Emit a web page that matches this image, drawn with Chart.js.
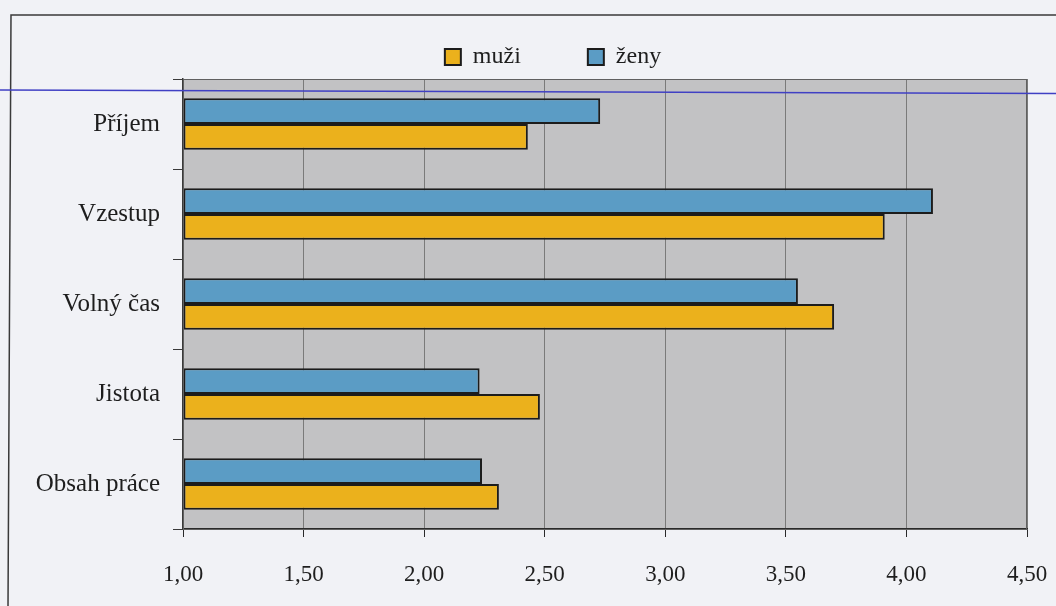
<!DOCTYPE html>
<html lang="cs">
<head>
<meta charset="utf-8">
<title>muži a ženy</title>
<script src="https://cdn.jsdelivr.net/npm/chart.js@4.4.1/dist/chart.umd.min.js"></script>
<style>
  html, body { margin: 0; padding: 0; background: #f1f2f6; }
  #wrap { width: 1056px; height: 606px; position: relative; }
</style>
</head>
<body>
<div id="wrap"><canvas id="c" width="1056" height="606"></canvas></div>
<script>
// Kategorie a průměrné hodnoty
const categories = ['Příjem', 'Vzestup', 'Volný čas', 'Jistota', 'Obsah práce'];
const zenyValues = [2.73, 4.11, 3.55, 2.23, 2.24];
const muziValues = [2.43, 3.91, 3.70, 2.48, 2.31];
const seriesNames = ['ženy', 'muži'];
const axisMin = 1.0;
const axisMax = 4.5;
const axisStep = 0.5;

const INK = '#1e1e1e';
const FONT = "'Liberation Serif', 'Times New Roman', serif";
const LEGEND_INSET = 79;   // legenda je vycentrovaná mimo levý okraj

// Šedé pozadí a rámeček grafu, vnější rám a linka přes stránku
const framePlugin = {
  id: 'frame',
  afterLayout(chart) {
    if (chart.legend) {
      chart.legend.left = LEGEND_INSET;
    }
  },
  beforeDraw(chart) {
    const { ctx, chartArea: a } = chart;
    ctx.save();
    ctx.fillStyle = '#c2c2c4';
    ctx.fillRect(a.left, a.top, a.right - a.left, a.bottom - a.top);
    // vnější rám
    ctx.strokeStyle = '#3a3a3a';
    ctx.lineWidth = 1.5;
    ctx.beginPath();
    ctx.moveTo(1056, 15);
    ctx.lineTo(11, 15);
    ctx.lineTo(8, 606);
    ctx.stroke();
    ctx.restore();
  },
  afterDatasetsDraw(chart) {
    const { ctx, chartArea: a } = chart;
    ctx.save();
    ctx.strokeStyle = '#606060';
    ctx.lineWidth = 1;
    ctx.strokeRect(a.left + 0.5, a.top + 0.5, a.right - a.left - 1, a.bottom - a.top);
    ctx.restore();
  },
  afterDraw(chart) {
    const { ctx } = chart;
    ctx.save();
    ctx.strokeStyle = '#4040c4';
    ctx.lineWidth = 1.5;
    ctx.beginPath();
    ctx.moveTo(0, 90);
    ctx.lineTo(1056, 93.5);
    ctx.stroke();
    ctx.restore();
  }
};

Chart.defaults.font.family = FONT;
Chart.defaults.color = INK;

new Chart(document.getElementById('c'), {
  type: 'bar',
  data: {
    labels: categories,
    datasets: [
      {
        label: seriesNames[0],
        data: zenyValues,
        backgroundColor: '#5b9cc5',
        borderColor: '#1c1c1c',
        borderWidth: 2,
        borderSkipped: false,
        base: axisMin
      },
      {
        label: seriesNames[1],
        data: muziValues,
        backgroundColor: '#ebb11c',
        borderColor: '#1c1c1c',
        borderWidth: 2,
        borderSkipped: false,
        base: axisMin
      }
    ]
  },
  options: {
    indexAxis: 'y',
    responsive: false,
    animation: false,
    devicePixelRatio: 1,
    categoryPercentage: 0.57,
    barPercentage: 1.0,
    layout: { padding: { top: -22, left: 0, right: 29, bottom: 0 } },
    plugins: {
      tooltip: { enabled: false },
      legend: {
        position: 'top',
        reverse: true,
        labels: {
          color: INK,
          boxWidth: 16,
          boxHeight: 16,
          padding: 67,
          font: { size: 24, family: FONT }
        }
      }
    },
    scales: {
      x: {
        type: 'linear',
        min: axisMin,
        max: axisMax,
        afterFit(scale) {
          scale.height = 77;
          scale.paddingLeft = 0;
          scale.paddingRight = 0;
        },
        ticks: {
          stepSize: axisStep,
          padding: 24,
          color: INK,
          font: { size: 23, family: FONT },
          callback: (v) => Number(v).toFixed(2).replace('.', ',')
        },
        grid: {
          color: '#7a7a7a',
          lineWidth: 1,
          drawTicks: true,
          tickLength: 8,
          tickColor: '#2a2a2a'
        },
        border: { display: true, color: '#2a2a2a', width: 1.5 }
      },
      y: {
        afterFit(scale) {
          scale.width = 183;
          scale.paddingTop = 0;
          scale.paddingBottom = 0;
        },
        ticks: {
          padding: 13,
          color: INK,
          font: { size: 25, family: FONT }
        },
        grid: {
          offset: true,
          drawOnChartArea: false,
          drawTicks: true,
          tickLength: 10,
          tickColor: '#3a3a3a'
        },
        border: { display: true, color: '#3a3a3a', width: 1.5 }
      }
    }
  },
  plugins: [framePlugin]
});
</script>
</body>
</html>
